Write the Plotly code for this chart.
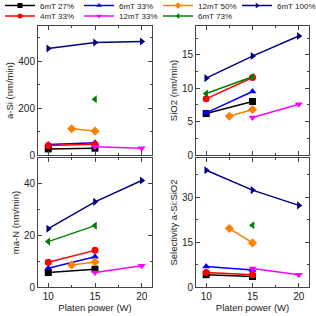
import plotly.graph_objects as go
from plotly.subplots import make_subplots

names = ["6mT 27%", "6mT 33%", "12mT 50%", "6mT 100%", "4mT 33%", "12mT 33%", "6mT 73%"]
colors = ["#000000", "#0000ff", "#ff8000", "#000080", "#ff0000", "#ff00ff", "#008000"]
symbols = ["square", "triangle-up", "diamond", "triangle-right", "circle", "triangle-down", "triangle-left"]

x_6mT27 = [10, 15]
x_6mT33 = [10, 15]
x_12mT50 = [12.5, 15]
x_6mT100 = [10, 15, 20]
x_4mT33 = [10, 15]
x_12mT33 = [15, 20]
x_6mT73 = [10, 15]

asi_6mT27 = [26, 29]
asi_6mT33 = [45, 52]
asi_12mT50 = [112, 102]
asi_6mT100 = [454, 480, 484]
asi_4mT33 = [40, 46]
asi_12mT33 = [35, 29]
asi_6mT73 = [None, 238]

sio2_6mT27 = [6.2, 8.0]
sio2_6mT33 = [6.3, 9.5]
sio2_12mT50 = [5.8, 6.8]
sio2_6mT100 = [11.5, 14.8, 17.8]
sio2_4mT33 = [8.4, 11.6]
sio2_12mT33 = [5.6, 7.6]
sio2_6mT73 = [9.2, 11.7]

man_6mT27 = [5.6, 6.9]
man_6mT33 = [7.3, 11.7]
man_12mT50 = [8.5, 9.7]
man_6mT100 = [22.6, 33.0, 41.3]
man_4mT33 = [9.6, 14.2]
man_12mT33 = [5.6, 8.2]
man_6mT73 = [17.6, 23.8]

sel_6mT27 = [4.1, 3.5]
sel_6mT33 = [6.8, 5.7]
sel_12mT50 = [19.5, 14.7]
sel_6mT100 = [38.9, 32.3, 27.2]
sel_4mT33 = [4.8, 4.1]
sel_12mT33 = [6.2, 4.1]
sel_6mT73 = [None, 20.6]

xs = [x_6mT27, x_6mT33, x_12mT50, x_6mT100, x_4mT33, x_12mT33, x_6mT73]
panels = [
    [asi_6mT27, asi_6mT33, asi_12mT50, asi_6mT100, asi_4mT33, asi_12mT33, asi_6mT73],
    [sio2_6mT27, sio2_6mT33, sio2_12mT50, sio2_6mT100, sio2_4mT33, sio2_12mT33, sio2_6mT73],
    [man_6mT27, man_6mT33, man_12mT50, man_6mT100, man_4mT33, man_12mT33, man_6mT73],
    [sel_6mT27, sel_6mT33, sel_12mT50, sel_6mT100, sel_4mT33, sel_12mT33, sel_6mT73],
]
y_titles = ["a-Si (nm/min)", "SiO2 (nm/min)", "ma-N (nm/min)", "Selectivity a-Si:SiO2"]
y_ranges = [[0, 550], [0, 19.3], [0, 50], [0, 43]]
y_dticks = [200, 5, 20, 15]
x_ticks = [10, 15, 20]

fig = make_subplots(rows=2, cols=2)
pos = [(1, 1), (1, 2), (2, 1), (2, 2)]
for p, (r, c) in enumerate(pos):
    for i in range(len(names)):
        fig.add_trace(go.Scatter(
            x=xs[i], y=panels[p][i], mode="lines+markers", name=names[i],
            line=dict(color=colors[i], width=1.5),
            marker=dict(symbol=symbols[i], size=7, color=colors[i]),
            legendgroup=names[i], showlegend=False,
        ), row=r, col=c)

# legend entries (smaller symbols, as in the reference legend)
for i in range(len(names)):
    fig.add_trace(go.Scatter(
        x=[None], y=[None], mode="lines+markers", name=names[i],
        line=dict(color=colors[i], width=1.5),
        marker=dict(symbol=symbols[i], size=5, color=colors[i]),
        legendgroup=names[i], showlegend=True,
        legend="legend" if i < 4 else "legend2",
    ), row=1, col=2)

W = H = 316
xdom = [[38 / W, 152 / W], [196 / W, 309 / W]]
ydom = [[(316 - 155) / H, (316 - 26) / H], [(316 - 287) / H, (316 - 158) / H]]
axcol = "#444"
tfont = dict(family="Liberation Sans, Arial", size=10, color="#222")
font = dict(family="Liberation Sans, Arial", size=9.5, color="#222")
for p, (r, c) in enumerate(pos):
    fig.update_xaxes(row=r, col=c, domain=xdom[c - 1], range=[8.9, 21.1],
                     tickvals=x_ticks, showticklabels=(r == 2),
                     ticks="inside", ticklen=4, tickcolor=axcol, mirror="ticks",
                     showline=True, linecolor=axcol, linewidth=1, showgrid=False, zeroline=False,
                     minor=dict(dtick=2.5, tick0=10, ticks="inside", ticklen=2, tickcolor=axcol, showgrid=False),
                     title=dict(text="Platen power (W)" if r == 2 else "", font=font, standoff=2),
                     tickfont=tfont, automargin=False)
    fig.update_yaxes(row=r, col=c, domain=ydom[r - 1], range=y_ranges[p],
                     dtick=y_dticks[p], tick0=0,
                     ticks="inside", ticklen=4, tickcolor=axcol, mirror="ticks",
                     showline=True, linecolor=axcol, linewidth=1, showgrid=False, zeroline=False,
                     minor=dict(dtick=y_dticks[p] / 2, ticks="inside", ticklen=2, tickcolor=axcol, showgrid=False),
                     title=dict(text=y_titles[p], font=font, standoff=2),
                     tickfont=tfont, automargin=False)

legfont = dict(family="Liberation Sans, Arial", size=8, color="#222")
fig.update_layout(
    width=W, height=H, margin=dict(l=0, r=0, t=0, b=0, autoexpand=False),
    paper_bgcolor="white", plot_bgcolor="white",
    legend=dict(orientation="h", x=0, xanchor="left", y=1 + 9 / H, yanchor="top",
                entrywidth=34, font=legfont, bgcolor="rgba(0,0,0,0)", itemwidth=30),
    legend2=dict(orientation="h", x=0, xanchor="left", y=1 - 1.5 / H, yanchor="top",
                 entrywidth=34, font=legfont, bgcolor="rgba(0,0,0,0)", itemwidth=30),
)
fig.write_html("out.html", config={"displayModeBar": False},
               post_script="document.body.style.margin='0px';document.body.style.padding='0px';")
